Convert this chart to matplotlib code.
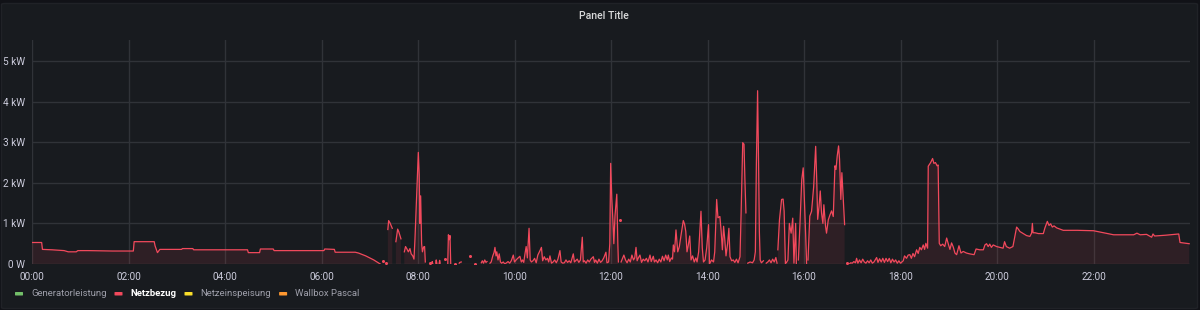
import numpy as np
import matplotlib
matplotlib.use("Agg")
import matplotlib.pyplot as plt
from matplotlib.patches import FancyBboxPatch

plt.rcParams['font.family'] = ['Roboto', 'DejaVu Sans']

nan = np.nan

# ---- data: Netzbezug (kW) vs. minutes after midnight ----
night_t = [0, 12, 13, 25, 40, 45, 55, 57, 70, 100, 126, 127, 152, 153, 156, 159, 186, 187,
           200, 201, 240, 268, 269, 283, 284, 300, 301, 330, 363, 364, 376, 377, 402, 406,
           415, 425, 433]
night_kw = [0.53, 0.53, 0.36, 0.35, 0.33, 0.30, 0.30, 0.33, 0.33, 0.32, 0.32, 0.55, 0.55,
            0.45, 0.28, 0.36, 0.36, 0.38, 0.38, 0.35, 0.35, 0.35, 0.28, 0.28, 0.37, 0.37,
            0.33, 0.33, 0.33, 0.37, 0.36, 0.29, 0.29, 0.27, 0.20, 0.10, 0.0]

morning_t = [434, 436, 437.5, 440, 441,
             442.5, 443.5, 445, 446.5, 448, 449,
             452.5, 454.7, 456, 457.5, 458.8, 460,
             463, 464.5, 466, 468, 470, 471.5, 473.5, 475, 476.2, 478, 480.4, 481.5, 482.3,
             483.3, 484.5, 485.5, 487, 488.2, 489.1, 490,
             494.4, 495.5, 497, 497.7, 498.5, 499.5, 502, 502.7, 503.5, 504.5, 506.2, 506.9,
             507.6, 508.5, 513.1, 514,
             517, 517.8, 519, 519.8, 520.7, 521.5,
             525.5, 526.5, 531.2, 532, 533.8, 534.5, 544.2, 545, 550.4, 551.2,
             558.7, 560, 561.5, 563, 564.5, 565.8, 566.5,
             569.5, 571, 573, 574.5, 575.7, 577, 578, 579.5, 581, 582.5, 584]
morning_kw = [nan, 0.08, nan, 0.02, nan,
              0.85, 1.07, 1.02, 0.95, 0.88, nan,
              0.55, 0.86, 0.80, 0.70, 0.62, nan,
              0.30, 0.43, 0.38, 0.30, 0.38, 0.25, 0.20, 0.12, 0.60, 1.50, 2.75, 2.20, 1.00,
              1.68, 0.50, 0.30, 0.42, 0.43, 0.05, nan,
              0.03, nan, 0.02, 0.06, 0.0, nan, 0.02, 0.10, 0.01, nan, 0.0, 0.09,
              0.02, nan, 0.12, nan,
              0.0, 0.72, 0.60, 0.70, 0.0, nan,
              0.0, nan, 0.02, 0.04, 0.05, nan, 0.20, nan, 0.0, nan,
              0.03, 0.08, 0.02, 0.10, 0.04, 0.06, nan,
              0.02, 0.05, 0.20, 0.28, 0.41, 0.20, 0.30, 0.10, 0.25, 0.05, 0.02]

midday_t = [586, 588, 590, 592, 594, 596, 598.5, 600, 602, 604, 606.7, 608.5, 610, 611.5,
            613.1, 614.5, 616, 618.1, 619.5, 621, 623, 625, 627, 629, 631.7, 633.5, 635,
            637, 639, 641, 642.5, 644.1, 646, 648, 650, 652, 654, 656.5, 658, 660, 662, 664,
            666, 668, 670, 673.1, 674.5, 676, 678, 680, 682, 684.3, 685.5, 687, 689, 691,
            693, 695, 698, 699.5, 701, 703, 705, 707, 709, 711, 713.7, 715, 717, 718.5,
            719.6, 721, 722.3, 723.5, 725, 727.2, 728.5, 729.2, 730, 730.6, 731.2,
            732.5, 734, 736, 738, 740, 742, 744, 746, 748, 749.5, 751.1, 752.5, 754, 756,
            758, 760, 762, 764, 766, 768.5, 770, 772.6, 774, 776, 778, 780, 782, 784, 786,
            788, 790, 791.3, 793, 795, 796.5]
midday_kw = [0.05, 0.0, 0.03, 0.06, 0.02, 0.08, 0.22, 0.05, 0.10, 0.14, 0.19, 0.05, 0.10,
             0.04, 0.26, 0.43, 0.15, 0.88, 0.10, 0.05, 0.08, 0.14, 0.03, 0.22, 0.33, 0.41,
             0.08, 0.18, 0.10, 0.14, 0.05, 0.20, 0.02, 0.05, 0.10, 0.03, 0.12, 0.33, 0.05,
             0.02, 0.03, 0.10, 0.04, 0.08, 0.03, 0.25, 0.05, 0.08, 0.12, 0.04, 0.10, 0.66,
             0.05, 0.08, 0.02, 0.10, 0.05, 0.12, 0.18, 0.04, 0.10, 0.02, 0.12, 0.04, 0.08,
             0.15, 0.29, 0.03, 0.05, 0.50,
             2.48, 1.60, 1.10, 0.50, 1.20, 1.72, 0.50, 0.05, nan, 1.08, nan,
             0.05, 0.12, 0.22, 0.10, 0.03, 0.12, 0.05, 0.22, 0.10, 0.15, 0.41, 0.08, 0.15,
             0.22, 0.04, 0.12, 0.08, 0.14, 0.05, 0.22, 0.06, 0.19, 0.05, 0.10, 0.03, 0.12,
             0.05, 0.19, 0.08, 0.22, 0.10, 0.22, 0.06, 0.15, 0.12]

afternoon_t = [797.5, 799, 800.8, 803, 805, 807, 809.9, 811.5, 813, 814.5, 816, 817.9,
               819.5, 821.5, 823.5, 825.5, 827, 829, 831.9, 833.5, 835, 837, 839, 841.3,
               842.5, 845, 847.5, 849, 851.4, 853, 855.4, 857, 858.5, 860, 861.5, 863, 865,
               866.6, 868, 870, 872, 874, 876, 878, 880.4, 881.8, 883.8, 885.4, 886.5,
               887.8, 888.6,
               890, 893, 896, 898, 899.5, 900.8, 902.3, 903.5, 904.5, 905.5, 907, 909.5, 911,
               913, 915, 917, 919, 921, 923, 925, 926.5, 927,
               927.5, 929.5, 932.1, 934, 935.3, 936.9, 937.5,
               938, 940, 941.8, 944, 946, 947.5, 949.6, 950.5, 951.5,
               953, 955, 957.2, 959, 960.5, 962, 963.3, 964,
               965, 967.2, 969.4, 972, 974.5, 975.8, 977, 978.7, 980.2, 981.8, 983.5, 984.7,
               986.8, 988, 990.2, 992.3, 994.3, 996.4, 998.5, 999.8, 1001.3, 1003, 1004.2,
               1005.8, 1007.1, 1008.8, 1010.5, 1011]
afternoon_kw = [0.47, 0.30, 0.84, 0.30, 0.43, 0.70, 1.07, 0.98, 0.80, 0.30, 0.45, 0.69,
                0.10, 0.20, 0.05, 0.15, 0.05, 0.30, 1.30, 0.40, 0.05, 0.10, 0.40, 0.97,
                0.0, 0.10, 0.05, 0.30, 1.59, 1.14, 1.17, 0.80, 0.35, 0.93, 0.60, 0.20, 0.50,
                0.88, 0.18, 0.08, 0.10, 0.04, 0.12, 0.03, 0.18, 1.25, 2.99, 2.95, 2.09,
                1.26, nan,
                0.02, 0.05, 0.03, 0.10, 0.30, 2.50, 4.27, 2.50, 0.80, 0.10, 0.03, 0.08, nan,
                0.02, 0.05, 0.10, 0.03, 0.12, 0.05, 0.16, 0.02, nan,
                0.35, 1.09, 1.59, 1.60, 1.30, 0.0, nan,
                0.03, 0.10, 1.00, 0.76, 1.13, 0.02, 1.00, 0.0, nan,
                0.10, 1.00, 2.08, 2.37, 1.60, 0.76, 0.0, nan,
                0.10, 1.18, 1.30, 1.90, 2.90, 2.09, 1.10, 1.42, 1.80, 1.26, 1.00, 1.46,
                0.93, 0.76, 1.09, 1.21, 1.31, 1.17, 2.42, 2.33, 2.66, 2.91, 2.58,
                1.59, 2.25, 1.59, 0.97, nan]

evening_t = [1013.5, 1014.5, 1016.5, 1018, 1020, 1022, 1024, 1025.4, 1027, 1029, 1031, 1033,
             1035, 1037, 1039, 1041, 1043, 1045, 1047, 1050.3, 1052, 1054, 1056, 1058, 1060,
             1062, 1064, 1066, 1068, 1070, 1072, 1074, 1076, 1078, 1080, 1083.4, 1085,
             1087.5, 1089.5, 1091.6, 1093.5, 1095.5, 1097.5, 1100, 1102, 1104, 1106, 1108.3,
             1110, 1111.5, 1113.7, 1114.5, 1117.5, 1119.9, 1121.5, 1123.5, 1125.5, 1126.8,
             1128.2, 1130, 1132.5, 1135, 1137.4, 1139.5, 1141.5, 1143.5, 1145.6, 1147.7,
             1149.8, 1152.7, 1155.2, 1158, 1162, 1166, 1171.5, 1174, 1178.5, 1183, 1185,
             1187, 1189, 1191, 1193, 1195.3, 1199.5, 1203.7, 1207.6, 1209.4, 1211.6, 1215.7,
             1219.8, 1224.4, 1226.5, 1228.5, 1232.7, 1236.8, 1240.9, 1243, 1244, 1244.8,
             1247.3, 1251.4, 1257.6, 1259.6, 1262.6, 1264.7, 1266.7, 1268.8, 1270.9, 1274.2,
             1278.3, 1282.4, 1300, 1320, 1340.5, 1345, 1349, 1370, 1374, 1378, 1386, 1392.3,
             1394, 1396, 1410, 1426, 1427.6, 1439]
evening_kw = [0.02, nan, 0.0, 0.03, 0.02, 0.06, 0.03, 0.14, 0.02, 0.10, 0.03, 0.12,
              0.05, 0.02, 0.08, 0.03, 0.10, 0.02, 0.05, 0.16, 0.04, 0.13, 0.05, 0.14, 0.04,
              0.14, 0.06, 0.14, 0.03, 0.12, 0.05, 0.10, 0.02, 0.08, 0.02, 0.08, 0.20,
              0.14, 0.22, 0.23, 0.14, 0.26, 0.18, 0.35, 0.26, 0.41, 0.35, 0.47,
              0.36, 0.51, 0.39, 2.41, 2.50, 2.60, 2.48, 2.50, 2.42, 2.44,
              0.51, 0.45, 0.49, 0.43, 0.64, 0.49, 0.36, 0.52, 0.42, 0.27,
              0.23, 0.45, 0.27, 0.31, 0.27, 0.25, 0.23, 0.37, 0.35, 0.35, 0.47,
              0.50, 0.43, 0.49, 0.41, 0.47, 0.43, 0.41, 0.39, 0.55, 0.43, 0.39,
              0.43, 0.91, 0.86, 0.80, 0.75, 0.70, 0.68, 0.76, 1.00, 0.77,
              0.77, 0.75, 0.75, 0.89, 1.05, 0.95, 0.99, 0.91, 0.94, 0.89,
              0.86, 0.83, 0.83, 0.82, 0.74, 0.72, 0.72, 0.72, 0.76, 0.72, 0.73, 0.66,
              0.74, 0.69, 0.71, 0.74, 0.53, 0.50]

y_ticks_kw = [0, 1, 2, 3, 4, 5]
y_tick_labels = ["0 W", "1 kW", "2 kW", "3 kW", "4 kW", "5 kW"]
x_tick_labels = ["00:00", "02:00", "04:00", "06:00", "08:00", "10:00",
                 "12:00", "14:00", "16:00", "18:00", "20:00", "22:00"]
legend_names = ["Generatorleistung", "Netzbezug", "Netzeinspeisung", "Wallbox Pascal"]
legend_colors = ["#73BF69", "#F2495C", "#FADE2A", "#FF9830"]
legend_active = [False, True, False, False]

# ---- assemble ----
t = np.array(night_t + morning_t + midday_t + afternoon_t + evening_t, dtype=float)
v = np.array(night_kw + morning_kw + midday_kw + afternoon_kw + evening_kw, dtype=float)

W, H = 1200, 310
fig = plt.figure(figsize=(W / 100, H / 100), dpi=100)
fig.patch.set_facecolor("#111217")
panel = FancyBboxPatch((1.5 / W, 1.5 / H), (W - 4) / W, (H - 5) / H,
                       boxstyle="round,pad=0,rounding_size=0.003",
                       transform=fig.transFigure, facecolor="#181b1f",
                       edgecolor="#202227", linewidth=1, zorder=-10)
fig.patches.append(panel)

ax = fig.add_axes([32 / W, (H - 264) / H, (1190 - 32) / W, (264 - 40) / H])
ax.set_zorder(5)
ax.set_facecolor("none")
line_color = "#F2495C"
ax.fill_between(t, 0, v, color=line_color, alpha=0.10, linewidth=0, zorder=2)
ax.plot(t, v, color=line_color, linewidth=0.9, zorder=3)

# isolated points (no finite neighbour) drawn as dots
fin = np.isfinite(v)
prev_ok = np.r_[False, fin[:-1]]
next_ok = np.r_[fin[1:], False]
iso = fin & ~prev_ok & ~next_ok
ax.plot(t[iso], v[iso], 'o', color=line_color, markersize=2.2, markeredgewidth=0, zorder=4)

ax.set_xlim(0, 1440)
ax.set_ylim(0, 5.52)
ax.set_yticks(y_ticks_kw)
ax.set_yticklabels(y_tick_labels)
ax.set_xticks(np.arange(len(x_tick_labels)) * 120)
ax.set_xticklabels(x_tick_labels)
ax.tick_params(axis='both', length=0, colors="#ccccdc", labelsize=7.2)
ax.tick_params(axis='y', pad=5)
ax.tick_params(axis='x', pad=6)
ax.grid(True, color="#303338", linewidth=1, zorder=1)
for s in ax.spines.values():
    s.set_visible(False)

fig.text(604 / W, 1 - 16 / H, "Panel Title", ha="center", va="center",
         color="#d8d9da", fontsize=7.6, fontweight="medium")

# legend
ly = 1 - 294 / H
x = 15
for name, col, act in zip(legend_names, legend_colors, legend_active):
    fig.patches.append(FancyBboxPatch((x / W, (H - 295.5) / H), 8 / W, 3.5 / H,
                                      boxstyle="round,pad=0,rounding_size=0.001",
                                      transform=fig.transFigure, facecolor=col,
                                      edgecolor="none", zorder=2))
    txt = fig.text((x + 16) / W, ly, name, ha="left", va="center",
                   color="#ffffff" if act else "#9fa0ab", fontsize=6.8,
                   fontweight="bold" if act else "normal")
    fig.canvas.draw()
    bb = txt.get_window_extent()
    x = bb.x1 + 8

fig.savefig("out.png", dpi=100, facecolor=fig.get_facecolor())
